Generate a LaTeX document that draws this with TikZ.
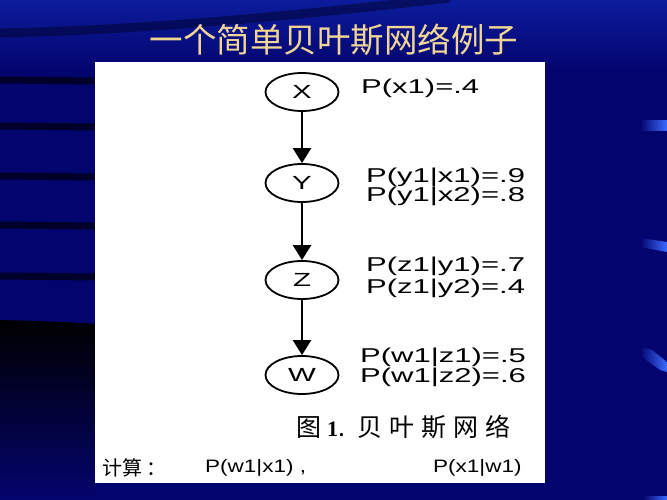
\documentclass[tikz,border=0pt]{standalone}
\usepackage{fontspec}
\usetikzlibrary{arrows.meta,shapes.geometric}
\newfontfamily\cjk{Noto Sans CJK SC}
\newfontfamily\lbl[FakeStretch=1.55]{Liberation Sans}
\newfontfamily\lblb[FakeStretch=1.25]{Liberation Sans}
\newfontfamily\serifb{Liberation Serif}
\definecolor{navy}{HTML}{04046E}
\definecolor{deepnavy}{HTML}{000020}
\definecolor{skyband}{HTML}{0C1C9C}
\definecolor{titlegold}{HTML}{F0D595}
\definecolor{dashblue}{HTML}{3A6BFF}
\newcommand{\gp}{\hspace{7pt}}
\tikzset{
  bnode/.style={ellipse, draw=black, line width=1.8pt, minimum width=73pt, minimum height=38pt, inner sep=0pt, font=\lbl\fontsize{19}{21}\selectfont},
  prob/.style={anchor=west, inner sep=0pt, align=left, font=\lbl\fontsize{20}{22}\selectfont},
  edge/.style={line width=2.4pt, -{Triangle[length=15pt,width=18pt]}},
  stripe/.style={line width=7pt, draw=deepnavy, opacity=0.85}
}
\begin{document}
\begin{tikzpicture}[x=1pt,y=-1pt]
\useasboundingbox (0,0) rectangle (667,500);
% background
\fill[navy] (0,0) rectangle (667,500);
\shade[top color=skyband, bottom color=navy] (0,0) rectangle (667,70);
\draw[line width=9pt, draw=deepnavy, opacity=0.45] (0,33) .. controls (150,30) and (300,15) .. (450,-2);
% left stripes
\foreach \yy in {80,126,176,225,276} \draw[stripe] (0,\yy) -- (96,\yy+1);
% dark lower left region
\shade[top color=black, bottom color=navy] (0,320) .. controls (40,321) and (70,322) .. (96,324) -- (96,500) -- (0,500) -- cycle;
% right blue dashes
\shade[left color=navy, right color=dashblue] (640,121) rectangle (667,131);
\shade[left color=navy, right color=dashblue] (640,238) -- (667,242) -- (667,252) -- (640,247) -- cycle;
\shade[left color=navy, right color=dashblue] (640,347) -- (652,350) -- (667,362) -- (667,372) -- (660,370) -- (642,357) -- cycle;
\shade[left color=navy, right color=dashblue] (643,496) rectangle (667,500);
% title
\node (title) at (334,40) {\cjk\fontsize{33.5}{36}\selectfont\color{titlegold}一个简单贝叶斯网络例子};
% white panel
\fill[white] (95,62) rectangle (545,483);
% network
\node[bnode] (X) at (302,92) {X};
\node[bnode] (Y) at (302,183) {Y};
\node[bnode] (Z) at (302,280) {Z};
\node[bnode] (W) at (302,375) {W};
\draw[edge] (X) -- (Y);
\draw[edge] (Y) -- (Z);
\draw[edge] (Z) -- (W);
\node[prob] (px) at (361,88) {P(x1)=.4};
\node[prob] (py1) at (366,177) {P(y1|x1)=.9};
\node[prob] (py2) at (366,196) {P(y1|x2)=.8};
\node[prob] (pz1) at (366,266) {P(z1|y1)=.7};
\node[prob] (pz2) at (366,288) {P(z1|y2)=.4};
\node[prob] (pw1) at (360,357) {P(w1|z1)=.5};
\node[prob] (pw2) at (360,377) {P(w1|z2)=.6};
% caption
\node[anchor=west, inner sep=0pt] (cap) at (296,427) {\cjk\fontsize{25}{27}\selectfont 图\hspace{6pt}{\serifb\bfseries\fontsize{22}{24}\selectfont 1}.\hspace{12pt}贝\gp 叶\gp 斯\gp 网\gp 络};
% bottom row
\node[anchor=west, inner sep=0pt] (calc) at (102,468) {\cjk\fontsize{20}{22}\selectfont 计算\hspace{4pt}：};
\node[anchor=west, inner sep=0pt] (q1) at (205,468) {\lblb\fontsize{18}{20}\selectfont P(w1|x1) ,};
\node[anchor=west, inner sep=0pt] (q2) at (433,468) {\lblb\fontsize{18}{20}\selectfont P(x1|w1)};
\end{tikzpicture}
\end{document}
